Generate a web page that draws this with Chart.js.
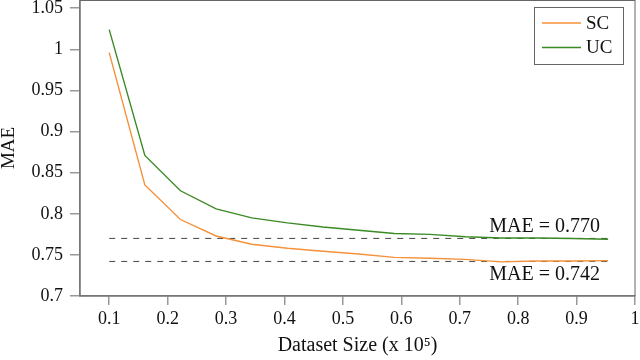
<!DOCTYPE html>
<html>
<head>
<meta charset="utf-8">
<script src="https://cdn.jsdelivr.net/npm/chart.js@4"></script>
<style>
html,body{margin:0;padding:0;background:#fff;}
#wrap{width:640px;height:360px;}
.pre{position:absolute;left:-999px;top:0;font-family:"Liberation Serif";font-size:19px;}
</style>
</head>
<body>
<div class="pre">MAE 0.1 Dataset</div>
<div id="wrap"><canvas id="c" width="640" height="360"></canvas></div>
<script>
// ---- data ----
const datasetSizes = [0.1, 0.161, 0.222, 0.283, 0.344, 0.405, 0.466, 0.527, 0.588, 0.649, 0.71, 0.771, 0.832, 0.893, 0.954];
const maeSC = [0.996, 0.835, 0.793, 0.773, 0.763, 0.758, 0.7545, 0.751, 0.747, 0.746, 0.7445, 0.7415, 0.7425, 0.7425, 0.743];
const maeUC = [1.024, 0.871, 0.828, 0.806, 0.795, 0.789, 0.784, 0.780, 0.776, 0.775, 0.772, 0.7705, 0.7705, 0.770, 0.769];
const refSC = 0.742;
const refUC = 0.770;
const refLabels = ['MAE = 0.770', 'MAE = 0.742'];
const xTicks = [0.1, 0.2, 0.3, 0.4, 0.5, 0.6, 0.7, 0.8, 0.9, 1];
const yTicks = [0.7, 0.75, 0.8, 0.85, 0.9, 0.95, 1, 1.05];
const seriesNames = ['SC', 'UC'];

const ORANGE = '#f5913a';
const GREEN = '#3b8a26';
const FONT = "'Liberation Serif', 'DejaVu Serif', serif";

const pts = (xs, ys) => xs.map((x, i) => ({x: x, y: ys[i]}));
const xFirst = datasetSizes[0], xLast = datasetSizes[datasetSizes.length - 1];

const overlay = {
  id: 'overlay',
  afterDraw(chart) {
    const ctx = chart.ctx, a = chart.chartArea;
    const xs = chart.scales.x, ys = chart.scales.y;
    ctx.save();
    // frame
    ctx.strokeStyle = '#666';
    ctx.lineWidth = 1;
    ctx.strokeRect(a.left, a.top + 0.5, a.right - a.left, a.bottom - a.top - 0.5);
    // reference labels
    ctx.fillStyle = '#111';
    ctx.font = '20px ' + FONT;
    ctx.textAlign = 'right';
    ctx.textBaseline = 'alphabetic';
    const lx = xs.getPixelForValue(0.94);
    ctx.fillText(refLabels[0], lx, ys.getPixelForValue(refUC) - 6.5);
    ctx.textBaseline = 'top';
    ctx.fillText(refLabels[1], lx, ys.getPixelForValue(refSC) + 3.5);
    // legend
    const bx = 534.5, by = 7.5, bw = 89, bh = 57;
    ctx.fillStyle = '#fff';
    ctx.fillRect(bx, by, bw, bh);
    ctx.strokeStyle = '#666';
    ctx.strokeRect(bx, by, bw, bh);
    const rows = [23, 47.5];
    chart.data.datasets.slice(0, 2).forEach((ds, i) => {
      ctx.strokeStyle = ds.borderColor;
      ctx.lineWidth = 1.5;
      ctx.beginPath();
      ctx.moveTo(542, rows[i]);
      ctx.lineTo(581, rows[i]);
      ctx.stroke();
      ctx.fillStyle = '#111';
      ctx.textAlign = 'left';
      ctx.textBaseline = 'middle';
      ctx.font = '19px ' + FONT;
      ctx.fillText(ds.label, 586, rows[i] + 1);
    });
    ctx.restore();
  }
};

function draw() {
  Chart.defaults.font.family = FONT;
  new Chart(document.getElementById('c'), {
    type: 'line',
    data: {
      datasets: [
        {label: seriesNames[0], data: pts(datasetSizes, maeSC), borderColor: ORANGE, borderWidth: 1.4, pointRadius: 0, fill: false, tension: 0},
        {label: seriesNames[1], data: pts(datasetSizes, maeUC), borderColor: GREEN, borderWidth: 1.4, pointRadius: 0, fill: false, tension: 0},
        {label: 'refUC', data: [{x: xFirst, y: refUC}, {x: xLast, y: refUC}], borderColor: '#555', borderWidth: 1.1, borderDash: [6, 6], pointRadius: 0, fill: false},
        {label: 'refSC', data: [{x: xFirst, y: refSC}, {x: xLast, y: refSC}], borderColor: '#555', borderWidth: 1.1, borderDash: [6, 6], pointRadius: 0, fill: false}
      ]
    },
    options: {
      responsive: false,
      animation: false,
      layout: {padding: {left: 0, right: 5, top: 0, bottom: 0}},
      plugins: {legend: {display: false}, tooltip: {enabled: false}},
      scales: {
        x: {
          type: 'linear', min: 0.05, max: 1.0,
          afterBuildTicks: s => { s.ticks = xTicks.map(v => ({value: v})); },
          afterFit: s => { s.height = 64; s.paddingLeft = 0; s.paddingRight = 0; },
          border: {display: true, color: '#888', width: 1.5},
          grid: {drawOnChartArea: false, drawTicks: true, tickLength: 9, color: '#999', lineWidth: 1.5},
          ticks: {color: '#111', font: {family: FONT, size: 18}, padding: 3, maxRotation: 0,
            callback: v => String(Math.round(v * 10) / 10)},
          title: {display: true, text: 'Dataset Size (x 10\u2075)', color: '#111', font: {family: FONT, size: 20}, padding: {top: 0, bottom: 2}}
        },
        y: {
          min: 0.7, max: 1.06,
          afterBuildTicks: s => { s.ticks = yTicks.map(v => ({value: v})); },
          afterFit: s => { s.width = 80; s.paddingTop = 0; s.paddingBottom = 0; },
          border: {display: true, color: '#888', width: 1.5},
          grid: {drawOnChartArea: false, drawTicks: true, tickLength: 10, color: '#999', lineWidth: 1.5},
          ticks: {color: '#111', font: {family: FONT, size: 18}, padding: 7,
            callback: v => String(Math.round(v * 100) / 100)},
          title: {display: true, text: 'MAE', color: '#111', font: {family: FONT, size: 19, lineHeight: 1}, padding: {top: 0, bottom: 0}}
        }
      }
    },
    plugins: [overlay]
  });
}

if (document.fonts && document.fonts.load) {
  Promise.all([
    document.fonts.load("17px 'Liberation Serif'"),
    document.fonts.load("19px 'Liberation Serif'")
  ]).then(draw, draw);
} else {
  draw();
}
</script>
</body>
</html>
